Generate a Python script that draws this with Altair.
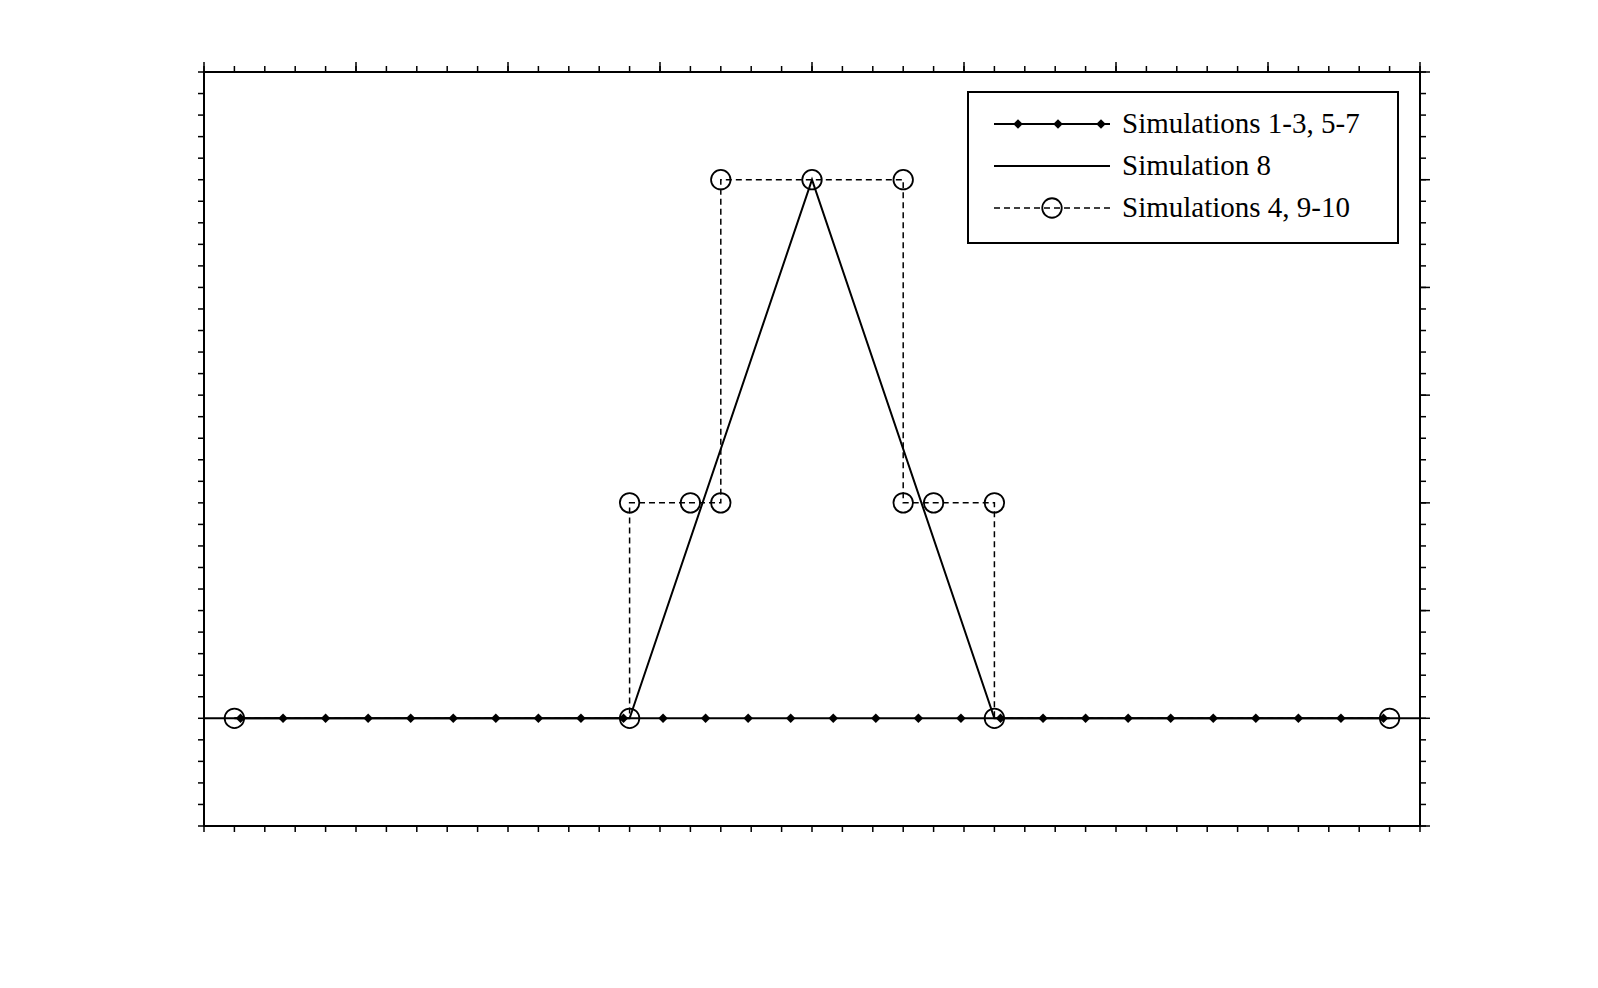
import pandas as pd
import altair as alt

# series
diamond_x = [-37.6, -34.8, -32.0, -29.2, -26.4, -23.6, -20.8, -18.0, -15.2, -12.4,
             -9.8, -7.0, -4.2, -1.4, 1.4, 4.2, 7.0, 9.8, 12.4, 15.2,
             18.0, 20.8, 23.6, 26.4, 29.2, 32.0, 34.8, 37.6]
diamond_y = [0.4] * len(diamond_x)
base_x = [-40, 40]
base_y = [0.4, 0.4]

sim8_x = [-38, -12, 0, 12, 38]
sim8_y = [0.4, 0.4, 0.65, 0.4, 0.4]

circ_x = [-38, -12, -12, -8, -6, -6, 0, 6, 6, 8, 12, 12, 38]
circ_y = [0.4, 0.4, 0.5, 0.5, 0.5, 0.65, 0.65, 0.65, 0.5, 0.5, 0.5, 0.4, 0.4]

x_major = list(range(-40, 41, 10))
x_minor = list(range(-40, 41, 2))
y_major = [0.35, 0.4, 0.45, 0.5, 0.55, 0.6, 0.65, 0.7]
y_minor = [round(0.35 + 0.01 * i, 2) for i in range(36)]

legend_labels = ["Simulations 1-3, 5-7", "Simulation  8", "Simulations  4, 9-10"]

W, H = 1216, 754
FONT = "Liberation Serif"

xs = alt.Scale(domain=[-40, 40], nice=False)
ys = alt.Scale(domain=[0.35, 0.7], nice=False, zero=False)

xax = alt.Axis(values=x_major, title="Normalised distance from weld centre",
               labelFontSize=40, titleFontSize=44, labelFont=FONT, titleFont=FONT,
               labelColor="black", titleColor="black", titleFontWeight="normal",
               tickSize=10, tickColor="black", tickWidth=1.5, domain=False, grid=False,
               labelPadding=4, titlePadding=6, format="d", labelFlush=False)
yax = alt.Axis(values=y_major, title="n-parameter distribution",
               labelFontSize=40, titleFontSize=44, labelFont=FONT, titleFont=FONT,
               labelColor="black", titleColor="black", titleFontWeight="normal",
               tickSize=10, tickColor="black", tickWidth=1.5, domain=False, grid=False,
               labelPadding=6, titlePadding=14, labelFlush=False,
               labelExpr="format(datum.value, '.2f') == '0.70' || format(datum.value, '.2f') == '0.60' || format(datum.value, '.2f') == '0.50' || format(datum.value, '.2f') == '0.40' ? format(datum.value, '.1f') : format(datum.value, '.2f')")

diam = pd.DataFrame({"x": diamond_x, "y": diamond_y})
base = pd.DataFrame({"x": base_x, "y": base_y})
s8 = pd.DataFrame({"x": sim8_x, "y": sim8_y, "o": range(len(sim8_x))})
cc = pd.DataFrame({"x": circ_x, "y": circ_y, "o": range(len(circ_x))})

X = lambda: alt.X("x:Q", scale=xs, axis=None)
Y = lambda: alt.Y("y:Q", scale=ys, axis=None)

baseline = alt.Chart(base).mark_line(color="black", strokeWidth=2).encode(
    x=alt.X("x:Q", scale=xs, axis=xax), y=alt.Y("y:Q", scale=ys, axis=yax))
diamonds = alt.Chart(diam).mark_point(shape="diamond", filled=True, color="black",
                                      size=90, opacity=1).encode(x=X(), y=Y())
sim8 = alt.Chart(s8).mark_line(color="black", strokeWidth=2).encode(
    x=X(), y=Y(), order="o:Q")
circ_line = alt.Chart(cc).mark_line(color="black", strokeWidth=1.5, strokeDash=[6, 4]).encode(
    x=X(), y=Y(), order="o:Q")
circles = alt.Chart(cc).mark_point(shape="circle", filled=False, color="black",
                                   size=380, strokeWidth=1.8, opacity=1).encode(x=X(), y=Y())

# minor / mirrored ticks
xmin_df = pd.DataFrame({"x": x_minor})
ymin_df = pd.DataFrame({"y": y_minor})
xmaj_df = pd.DataFrame({"x": x_major})
ymaj_df = pd.DataFrame({"y": y_major})
tb = alt.Chart(xmin_df).mark_rule(color="black", strokeWidth=1.5).encode(
    x=X(), y=alt.value(H), y2=alt.value(H + 6))
tt = alt.Chart(xmin_df).mark_rule(color="black", strokeWidth=1.5).encode(
    x=X(), y=alt.value(0), y2=alt.value(-6))
ttm = alt.Chart(xmaj_df).mark_rule(color="black", strokeWidth=1.5).encode(
    x=X(), y=alt.value(0), y2=alt.value(-10))
tl = alt.Chart(ymin_df).mark_rule(color="black", strokeWidth=1.5).encode(
    y=Y(), x=alt.value(0), x2=alt.value(-6))
tr = alt.Chart(ymin_df).mark_rule(color="black", strokeWidth=1.5).encode(
    y=Y(), x=alt.value(W), x2=alt.value(W + 6))
trm = alt.Chart(ymaj_df).mark_rule(color="black", strokeWidth=1.5).encode(
    y=Y(), x=alt.value(W), x2=alt.value(W + 10))

# legend box
lx0, ly0 = 764, 20
lg_box = alt.Chart(pd.DataFrame({"a": [0]})).mark_rect(
    fill="white", stroke="black", strokeWidth=2).encode(
    x=alt.value(lx0), x2=alt.value(lx0 + 430), y=alt.value(ly0), y2=alt.value(ly0 + 151))
ldf = pd.DataFrame({"label": legend_labels})
rows_y = [ly0 + 32, ly0 + 74, ly0 + 116]
lg_l1 = alt.Chart(ldf.iloc[[0]]).mark_rule(color="black", strokeWidth=2).encode(
    x=alt.value(lx0 + 26), x2=alt.value(lx0 + 142), y=alt.value(rows_y[0]))
lg_l2 = alt.Chart(ldf.iloc[[1]]).mark_rule(color="black", strokeWidth=2).encode(
    x=alt.value(lx0 + 26), x2=alt.value(lx0 + 142), y=alt.value(rows_y[1]))
lg_l3 = alt.Chart(ldf.iloc[[2]]).mark_rule(color="black", strokeWidth=1.5, strokeDash=[6, 4]).encode(
    x=alt.value(lx0 + 26), x2=alt.value(lx0 + 142), y=alt.value(rows_y[2]))
lg_d = [alt.Chart(ldf.iloc[[0]]).mark_point(shape="diamond", filled=True, color="black",
                                            size=90, opacity=1).encode(
    x=alt.value(lx0 + dx), y=alt.value(rows_y[0])) for dx in (50, 90, 133)]
lg_c = alt.Chart(ldf.iloc[[2]]).mark_point(shape="circle", filled=False, color="black",
                                           size=380, strokeWidth=1.8, opacity=1).encode(
    x=alt.value(lx0 + 84), y=alt.value(rows_y[2]))
lg_t = [alt.Chart(ldf.iloc[[i]]).mark_text(align="left", baseline="middle", font=FONT,
                                           fontSize=29, color="black").encode(
    x=alt.value(lx0 + 154), y=alt.value(rows_y[i]), text="label:N") for i in range(3)]

chart = alt.layer(
    baseline, tb, tt, ttm, tl, tr, trm,
    diamonds, sim8, circ_line, circles,
    lg_box, lg_l1, lg_l2, lg_l3, *lg_d, lg_c, *lg_t
).properties(
    width=W, height=H, background="white",
    padding={"left": 196, "top": 64, "right": 10, "bottom": 10},
    autosize=alt.AutoSizeParams(type="none"),
).configure_view(stroke="black", strokeWidth=2).configure_axis(grid=False)

chart.save("out.html", embed_options={"renderer": "svg", "actions": False})
